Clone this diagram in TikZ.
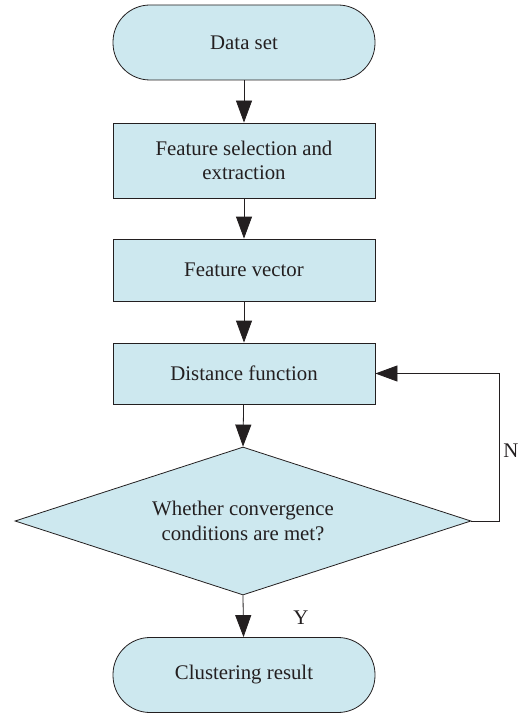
\documentclass[tikz,border=0pt]{standalone}
\usepackage{fontspec}
\setmainfont{Liberation Serif}
\usetikzlibrary{shapes.geometric,arrows.meta}
\definecolor{boxfill}{HTML}{CDE8EF}
\definecolor{ink}{HTML}{231F20}
\tikzset{
  every node/.style={font=\fontsize{20.8}{24.5}\selectfont, text=ink},
  terminal/.style={draw=ink, fill=boxfill, line width=0.8pt, rounded corners=37pt,
    minimum width=262pt, minimum height=75pt, align=center},
  process/.style={draw=ink, fill=boxfill, line width=0.8pt,
    minimum width=262pt, align=center},
  decision/.style={draw=ink, fill=boxfill, line width=0.8pt, diamond, aspect=3.08,
    inner sep=0pt, minimum width=456pt, minimum height=148pt, align=center},
  flow/.style={draw=ink, line width=0.8pt, -{Triangle[length=22pt,width=16pt]}}
}
\begin{document}
\begin{tikzpicture}[x=1pt,y=-1pt]
      \useasboundingbox (0,0) rectangle (525,714);
      \draw
        (244,42.5) node[terminal] (data){Data set}
        (244,160.5) node[process, minimum height=75pt] (select){Feature selection and\\extraction}
        (244,270) node[process, minimum height=62pt] (vector){Feature vector}
        (244,373.5) node[process, minimum height=61pt] (dist){Distance function}
        (243,521) node[decision] (conv){Whether convergence\\conditions are met?}
        (244,675) node[terminal] (result){Clustering result};
      \coordinate (turn) at (499,521);
      \begin{scope}[flow]
        \draw (data) to (select);
        \draw (select) to (vector);
        \draw (vector) to (dist);
        \draw (dist) to (conv.north);
        \draw (conv.south) to (result);
        \draw (conv.east) -- (turn) |- (dist.east);
      \end{scope}
      \node at (301,618) (yes){Y};
      \node at (511,451) (no){N};
    \end{tikzpicture}
\end{document}
